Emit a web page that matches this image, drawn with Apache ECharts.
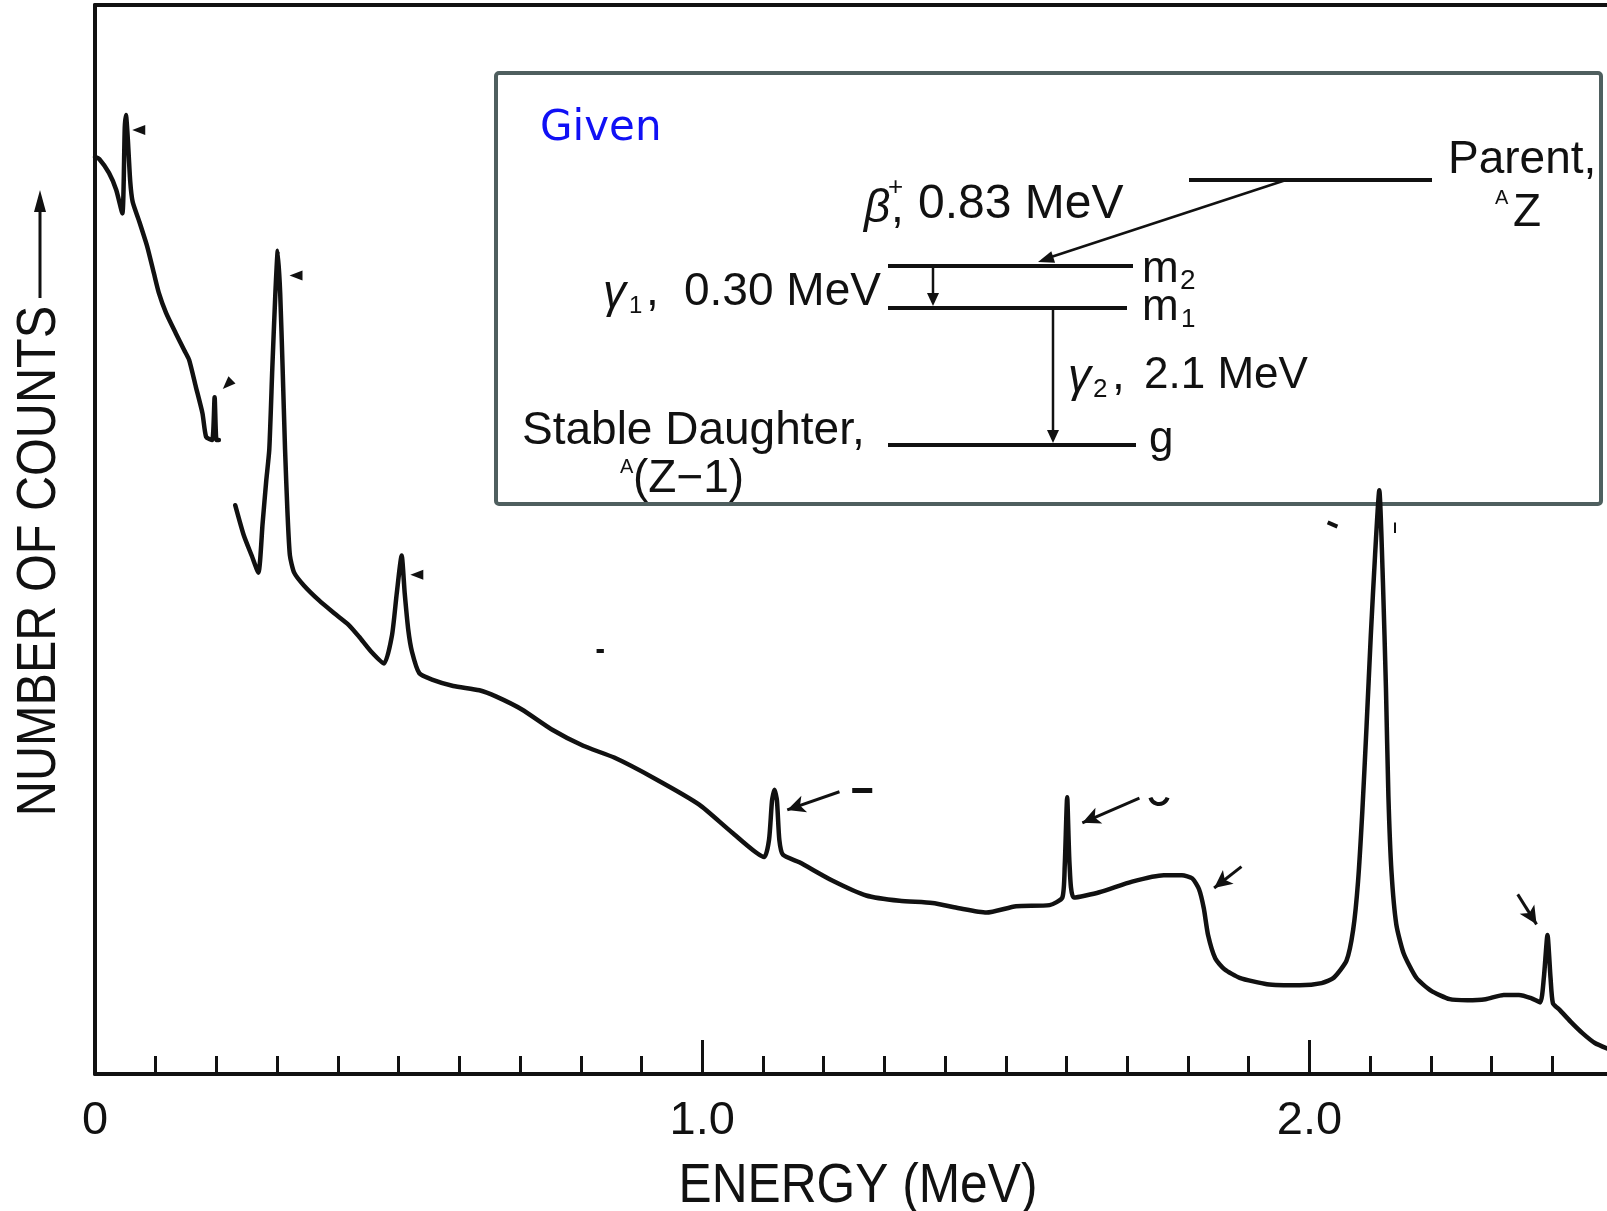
<!DOCTYPE html>
<html><head><meta charset="utf-8">
<script src="https://cdn.jsdelivr.net/npm/echarts@6.0.0/dist/echarts.min.js"></script>
<style>html,body{margin:0;padding:0;background:#fff}#c{width:1607px;height:1211px}</style>
</head><body><div id="c"></div>
<script>
// ---- data (energy in MeV, counts in arbitrary units 0..100) ----
const energyLow = [0, 0.007, 0.023, 0.035, 0.045, 0.049, 0.051, 0.054, 0.058, 0.062, 0.072, 0.086, 0.097, 0.105, 0.117, 0.133, 0.147, 0.155, 0.166, 0.177, 0.183, 0.193, 0.197, 0.200, 0.204];
const countsLow = [85.8, 85.6, 84.3, 82.7, 80.5, 88.5, 89.7, 87.5, 83.5, 81.6, 79.9, 77.4, 74.9, 73.1, 71.2, 69.3, 67.7, 66.8, 64.3, 61.8, 59.6, 59.3, 63.3, 59.3, 59.3];

const energyHigh = [0.231, 0.245, 0.258, 0.269, 0.276, 0.282, 0.287, 0.292, 0.297, 0.301, 0.305, 0.309, 0.313, 0.317, 0.321, 0.328, 0.344, 0.369, 0.394, 0.418, 0.435, 0.455, 0.476, 0.489, 0.497, 0.505, 0.510, 0.516, 0.522, 0.534, 0.555, 0.590, 0.633, 0.661, 0.703, 0.753, 0.804, 0.855, 0.923, 0.995, 1.049, 1.102, 1.110, 1.115, 1.119, 1.123, 1.127, 1.133, 1.160, 1.214, 1.270, 1.325, 1.379, 1.423, 1.468, 1.517, 1.572, 1.593, 1.597, 1.601, 1.605, 1.612, 1.654, 1.708, 1.760, 1.790, 1.807, 1.818, 1.826, 1.833, 1.845, 1.860, 1.885, 1.930, 1.984, 2.020, 2.040, 2.061, 2.072, 2.080, 2.087, 2.094, 2.101, 2.108, 2.115, 2.121, 2.126, 2.130, 2.135, 2.143, 2.155, 2.176, 2.200, 2.231, 2.260, 2.290, 2.320, 2.345, 2.365, 2.380, 2.386, 2.392, 2.397, 2.401, 2.412, 2.430, 2.450, 2.470, 2.490];
const countsHigh = [53.2, 50.4, 48.5, 46.9, 51.5, 55.5, 58.4, 66.0, 73.0, 77.0, 73.0, 66.0, 58.4, 52.5, 48.5, 46.9, 45.7, 44.3, 43.1, 42.0, 40.9, 39.5, 38.4, 41.0, 45.0, 48.5, 45.0, 41.5, 39.5, 37.5, 36.9, 36.3, 35.9, 35.3, 34.1, 32.2, 30.7, 29.6, 27.6, 25.2, 22.6, 20.3, 21.9, 25.6, 26.6, 25.6, 21.9, 20.5, 19.8, 18.1, 16.7, 16.2, 16.0, 15.5, 15.1, 15.7, 15.8, 16.5, 19.5, 25.9, 19.5, 16.5, 17.0, 18.0, 18.6, 18.6, 18.3, 17.3, 15.5, 13.0, 10.8, 9.8, 9.0, 8.4, 8.3, 8.5, 9.0, 10.6, 13.5, 18.0, 24.5, 32.5, 41.0, 48.5, 54.6, 46.0, 36.0, 26.0, 19.0, 14.0, 11.3, 9.0, 7.8, 7.0, 6.9, 7.0, 7.4, 7.4, 7.1, 6.7, 9.0, 13.0, 9.0, 6.6, 6.0, 4.9, 3.8, 2.9, 2.4];

const xLabelValues = [0, 1, 2];
const xTickLabels = ['0', '1.0', '2.0'];
const minorTickValues = [0.1, 0.2, 0.3, 0.4, 0.5, 0.6, 0.7, 0.8, 0.9, 1.1, 1.2, 1.3, 1.4, 1.5, 1.6, 1.7, 1.8, 1.9, 2.1, 2.2, 2.3, 2.4];
const majorTickValues = [1, 2];

// peak-marking arrows [fromE, fromC, toE, toC]
const peakArrows = [[1.226, 26.4, 1.140, 24.7], [1.720, 25.8, 1.626, 23.5], [1.888, 19.4, 1.843, 17.4], [2.343, 16.8, 2.374, 14.0]];
// small arrowheads [E, C, rotateDeg]
const peakHeads = [[0.072, 88.3, 90], [0.331, 74.7, 90], [0.218, 64.5, 135], [0.530, 46.7, 90]];
// stray dashes [fromE, fromC, toE, toC, width]
const dashes = [[1.247, 26.5, 1.280, 26.5, 5], [0.826, 39.6, 0.838, 39.6, 4], [2.030, 51.6, 2.046, 51.2, 4], [2.141, 50.6, 2.141, 51.6, 2]];

const FONT = '"Liberation Sans", Arial, Helvetica, sans-serif';
const INK = '#111';

function pairs(xs, ys) { return xs.map((x, i) => [x, ys[i]]); }

function txt(text, x, y, size, extra) {
  const st = Object.assign({
    text: text, x: 0, y: 0, fill: INK,
    font: size + 'px ' + FONT,
    align: 'left', textAlign: 'left',
    verticalAlign: 'middle', textVerticalAlign: 'middle'
  }, extra || {});
  return { type: 'text', x: x, y: y, style: st, z: 10 };
}
function seg(x1, y1, x2, y2, w) {
  return { type: 'line', shape: { x1, y1, x2, y2 }, style: { stroke: INK, lineWidth: w, lineCap: 'butt' }, z: 10 };
}
function head(tx, ty, dx, dy, len, half) {
  const L = Math.hypot(dx, dy), ux = dx / L, uy = dy / L;
  const bx = tx - ux * len, by = ty - uy * len;
  return { type: 'polygon', shape: { points: [[tx, ty], [bx - uy * half, by + ux * half], [bx + uy * half, by - ux * half]] }, style: { fill: INK }, z: 10 };
}

const graphics = [
  // inset box
  { type: 'rect', shape: { x: 496, y: 73, width: 1105, height: 431, r: 3 }, style: { fill: 'none', stroke: '#4f5f5f', lineWidth: 4 }, z: 1 },
  txt('Given', 540, 129, 42, { fill: '#1010f5', font: '42px "DejaVu Sans", Verdana, sans-serif' }),
  // levels
  seg(1189, 180, 1432, 180, 4),
  seg(888, 266, 1133, 266, 4),
  seg(888, 308, 1127, 308, 4),
  seg(888, 445, 1136, 445, 4),
  // beta arrow
  seg(1286, 180, 1048, 258, 2.5),
  head(1038, 262, -246, 81, 16, 6),
  // gamma arrows
  seg(933, 268, 933, 296, 2.5),
  head(933, 306, 0, 1, 13, 6),
  seg(1053, 310, 1053, 432, 2.5),
  head(1053, 443, 0, 1, 13, 6),
  // texts
  txt('β', 864, 209, 46, { font: 'italic 46px ' + FONT }),
  txt('+', 888, 188, 26),
  txt(',', 891, 209, 46),
  txt('0.83 MeV', 918, 205, 48),
  txt('γ', 603, 294, 46, { font: 'italic 46px ' + FONT }),
  txt('1', 629, 306, 24),
  txt(',', 646, 292, 46),
  txt('0.30 MeV', 684, 292, 46),
  txt('γ', 1068, 378, 46, { font: 'italic 46px ' + FONT }),
  txt('2', 1093, 390, 26),
  txt(',', 1112, 376, 46),
  txt('2.1 MeV', 1144, 376, 44),
  txt('Stable Daughter,', 522, 431, 46),
  txt('A', 620, 467, 20),
  txt('(Z−1)', 633, 479, 46),
  txt('m', 1142, 270, 44),
  txt('2', 1180, 281, 28),
  txt('m', 1142, 308, 44),
  txt('1', 1181, 320, 26),
  txt('g', 1149, 440, 44),
  txt('Parent,', 1448, 160, 46),
  txt('A', 1495, 198, 20),
  txt('Z', 1513, 213, 46),
  // c-like fragment
  { type: 'arc', shape: { cx: 1159, cy: 795, r: 9, startAngle: 0.3, endAngle: Math.PI - 0.3, clockwise: true }, style: { stroke: INK, lineWidth: 4, fill: 'none' }, z: 10 },
  // y axis title
  { type: 'text', x: 40, y: 561, rotation: Math.PI / 2, scaleX: 0.9, scaleY: 1.04,
    style: { text: 'NUMBER OF COUNTS', x: 0, y: 0, fill: INK, font: '54px ' + FONT, align: 'center', textAlign: 'center', verticalAlign: 'middle', textVerticalAlign: 'middle' }, z: 10 },
  seg(40, 298, 40, 205, 3),
  head(40, 190, 0, -1, 22, 6),
  // x axis title
  { type: 'text', x: 858, y: 1187, scaleX: 0.92, scaleY: 1.04,
    style: { text: 'ENERGY (MeV)', x: 0, y: 0, fill: INK, font: '54px ' + FONT, align: 'center', textAlign: 'center', verticalAlign: 'middle', textVerticalAlign: 'middle' }, z: 10 }
];

const lineStyle = { color: INK, width: 4.5, join: 'round', cap: 'round' };

const option = {
  animation: false,
  backgroundColor: '#fff',
  grid: { left: 95, top: 5, right: 0, bottom: 137, containLabel: false },
  xAxis: [
    { type: 'value', min: 0, max: 2.49, position: 'bottom',
      axisLine: { show: true, onZero: false, lineStyle: { color: INK, width: 4 } },
      axisTick: { show: true, inside: true, length: 18, customValues: minorTickValues, lineStyle: { color: INK, width: 3 } },
      axisLabel: { show: true, customValues: xLabelValues, margin: 24, color: INK, fontSize: 47, fontFamily: FONT,
        formatter: v => { const i = xLabelValues.indexOf(Math.round(v)); return i >= 0 ? xTickLabels[i] : ''; } },
      splitLine: { show: false } },
    { type: 'value', min: 0, max: 2.49, position: 'bottom',
      axisLine: { show: false },
      axisTick: { show: true, inside: true, length: 34, customValues: majorTickValues, lineStyle: { color: INK, width: 3 } },
      axisLabel: { show: false }, splitLine: { show: false } },
    { type: 'value', min: 0, max: 2.49, position: 'top',
      axisLine: { show: true, lineStyle: { color: INK, width: 4 } },
      axisTick: { show: false }, axisLabel: { show: false }, splitLine: { show: false } }
  ],
  yAxis: { type: 'value', min: 0, max: 100,
    axisLine: { show: true, lineStyle: { color: INK, width: 4 } },
    axisTick: { show: false }, axisLabel: { show: false }, splitLine: { show: false } },
  series: [
    { type: 'line', data: pairs(energyLow, countsLow), showSymbol: false, smooth: 0.2, lineStyle: lineStyle, z: 5 },
    { type: 'line', data: pairs(energyHigh, countsHigh), showSymbol: false, smooth: 0.2, lineStyle: lineStyle, z: 5,
      markLine: { silent: true, animation: false, label: { show: false },
        lineStyle: { type: 'solid', color: INK, width: 3 },
        data: peakArrows.map(a => [{ coord: [a[0], a[1]], symbol: 'none' }, { coord: [a[2], a[3]], symbol: 'arrow', symbolSize: [13, 18] }])
          .concat(dashes.map(d => [{ coord: [d[0], d[1]], symbol: 'none', lineStyle: { width: d[4] } }, { coord: [d[2], d[3]], symbol: 'none' }])) },
      markPoint: { silent: true, animation: false, label: { show: false }, itemStyle: { color: INK },
        data: peakHeads.map(h => ({ coord: [h[0], h[1]], symbol: 'triangle', symbolSize: [10, 13], symbolRotate: h[2] })) } }
  ],
  graphic: graphics
};

const chart = echarts.init(document.getElementById('c'), null, { renderer: 'canvas' });
chart.setOption(option);
</script>
</body></html>
